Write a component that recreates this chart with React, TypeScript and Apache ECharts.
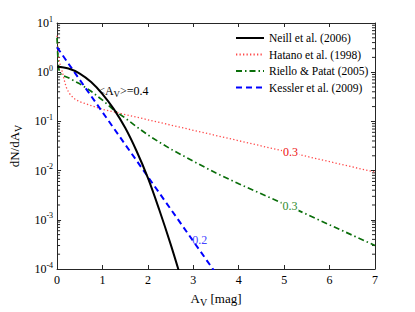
import React, { useEffect, useRef } from "react";
import * as echarts from "echarts";

const FONT = "Liberation Serif";

const legendNames = ["Neill et al. (2006)", "Hatano et al. (1998)", "Riello & Patat (2005)", "Kessler et al. (2009)"];

const neillX = [0, 0.25, 0.5, 0.75, 1, 1.25, 1.5, 1.75, 2, 2.25, 2.5, 2.75];
const neillY = [1.29, 1.19, 0.94, 0.63, 0.36, 0.178, 0.074, 0.025, 0.0071, 0.0016, 0.00032, 0.000056];

const hatanoX = [0, 0.02, 0.04, 0.07, 0.1, 0.13, 0.16, 0.2, 0.25, 0.3, 0.4, 0.5, 0.75, 1, 2, 3, 4, 5, 6, 7];
const hatanoY = [5.5, 3.0, 1.9, 1.4, 1.15, 0.9, 0.68, 0.5, 0.4, 0.34, 0.28, 0.25, 0.21, 0.176, 0.108, 0.066, 0.0405, 0.0248, 0.0152, 0.0093];

const rielloX = [0, 0.01, 0.02, 0.04, 0.07, 0.1, 0.25, 0.5, 0.75, 1, 1.25, 1.5, 1.75, 2, 2.25, 2.5, 3, 3.5, 4, 5, 6, 7];
const rielloY = [5, 3.0, 1.8, 1.15, 0.95, 0.88, 0.77, 0.58, 0.41, 0.27, 0.17, 0.117, 0.078, 0.053, 0.038, 0.0275, 0.0155, 0.0089, 0.0054, 0.0021, 0.00079, 0.0003];

const kesslerX = [0, 0.5, 1, 1.5, 2, 2.5, 3, 3.5];
const kesslerY = [3.2, 0.7, 0.154, 0.034, 0.0075, 0.00166, 0.000366, 0.000081];

const xTicks = [0, 1, 2, 3, 4, 5, 6, 7];
const yDecades = [-4, -3, -2, -1, 0, 1];

// annotation positions in data coordinates
const annMean = [1.46, 0.42];
const annHatano = [5.14, 0.0234];
const annRiello = [5.13, 0.00195];
const annKessler = [3.14, 0.00038];

const pairs = (xs: number[], ys: number[]) => xs.map((x, i) => [x, ys[i]]);

const minorTicks: number[] = [];
for (let d = -4; d < 1; d++) {
  for (let m = 2; m <= 9; m++) minorTicks.push(m * Math.pow(10, d));
}

const AX = "#262626";

export default function App() {
  const ref = useRef<HTMLDivElement>(null);
  useEffect(() => {
    if (!ref.current) return;
    const chart = echarts.init(ref.current, undefined, { renderer: "svg" });
    const axisCommon = {
      axisLine: { show: true, onZero: false, lineStyle: { color: AX, width: 1 } },
      axisTick: { show: true, inside: true, length: 4, lineStyle: { color: AX } },
      splitLine: { show: false },
    };
    const mk = (coord: number[], text: string, color: string, bg?: string) => ({
      coord,
      symbol: "rect",
      symbolSize: 1,
      itemStyle: { color: "rgba(0,0,0,0)" },
      label: {
        show: true,
        position: "inside",
        formatter: text,
        color,
        fontFamily: FONT,
        fontSize: 12,
        backgroundColor: bg,
        padding: bg ? [0, 1] : 0,
        rich: { sub: { fontSize: 9, fontFamily: FONT, color, padding: [7, 0, 0, 0] } },
      },
    });
    chart.setOption({
      animation: false,
      textStyle: { fontFamily: FONT },
      grid: { left: 54, right: 40, top: 23, bottom: 35 },
      legend: {
        data: legendNames,
        orient: "vertical",
        left: 235,
        top: 31,
        padding: 0,
        itemWidth: 28,
        itemHeight: 10,
        itemGap: 2.5,
        itemStyle: { opacity: 0 },
        textStyle: { fontFamily: FONT, fontSize: 11.5, lineHeight: 14, color: "#000" },
      },
      xAxis: [
        {
          type: "value",
          min: 0,
          max: 7,
          interval: 1,
          ...axisCommon,
          axisLabel: { fontFamily: FONT, fontSize: 12, color: "#000", margin: 5, formatter: (v: number) => (xTicks.includes(v) ? String(v) : "") },
          name: "A{sub|V} [mag]",
          nameLocation: "middle",
          nameGap: 20,
          nameTextStyle: {
            fontFamily: FONT,
            fontSize: 13,
            color: "#000",
            rich: { sub: { fontFamily: FONT, fontSize: 10, color: "#000", padding: [8, 0, 0, 0] } },
          },
        },
        { type: "value", position: "top", min: 0, max: 7, interval: 1, ...axisCommon, axisLabel: { show: false } },
      ],
      yAxis: [
        {
          type: "log",
          logBase: 10,
          min: 1e-4,
          max: 10,
          splitNumber: 5,
          ...axisCommon,
          axisLabel: {
            fontFamily: FONT,
            fontSize: 12,
            color: "#000",
            margin: 4,
            formatter: (v: number) => {
              const e = Math.round(Math.log10(v));
              return yDecades.includes(e) ? `10{sup|${e}}` : "";
            },
            rich: { sup: { fontFamily: FONT, fontSize: 8, color: "#000", padding: [0, 0, 8, 0] } },
          },
          name: "dN/dA{sub|V}",
          nameLocation: "middle",
          nameGap: 29,
          nameRotate: 90,
          nameTextStyle: {
            fontFamily: FONT,
            fontSize: 13,
            color: "#000",
            rich: { sub: { fontFamily: FONT, fontSize: 10, color: "#000", padding: [8, 0, 0, 0] } },
          },
        },
        { type: "log", logBase: 10, min: 1e-4, max: 10, splitNumber: 5, position: "right", ...axisCommon, axisLabel: { show: false } },
      ],
      series: [
        {
          name: legendNames[0],
          type: "line",
          data: pairs(neillX, neillY),
          symbol: "none",
          smooth: 0.35,
          lineStyle: { color: "#000", width: 2, type: "solid" },
          itemStyle: { color: "#000" },
          markPoint: { silent: true, data: [mk(annMean, "<A{sub|V}>=0.4", "#000")] },
          z: 5,
        },
        {
          name: legendNames[1],
          type: "line",
          data: pairs(hatanoX, hatanoY),
          symbol: "none",
          lineStyle: { color: "#ff4a4a", width: 1.3, type: [1.3, 2.2] },
          itemStyle: { color: "#ff4a4a" },
          markPoint: { silent: true, data: [mk(annHatano, "0.3", "#ee1111", "#fff")] },
          z: 3,
        },
        {
          name: legendNames[2],
          type: "line",
          data: pairs(rielloX, rielloY),
          symbol: "none",
          lineStyle: { color: "#0a6e0a", width: 1.7, type: [6, 3, 1.5, 3] },
          itemStyle: { color: "#0a6e0a" },
          markPoint: { silent: true, data: [mk(annRiello, "0.3", "#2e8b2e", "#fff")] },
          z: 4,
        },
        {
          name: legendNames[3],
          type: "line",
          data: pairs(kesslerX, kesslerY),
          symbol: "none",
          lineStyle: { color: "#0000ff", width: 2, type: [6, 4] },
          itemStyle: { color: "#0000ff" },
          markPoint: { silent: true, data: [mk(annKessler, "0.2", "#4444ff")] },
          z: 4,
        },
        {
          name: "_minor",
          type: "custom",
          silent: true,
          clip: false,
          data: minorTicks.map((v) => [0, v]),
          encode: { x: 0, y: 1 },
          renderItem: (params: any, api: any) => {
            const v = api.value(1);
            const l = api.coord([0, v]);
            const r = api.coord([7, v]);
            return {
              type: "group",
              children: [
                { type: "line", shape: { x1: l[0], y1: l[1], x2: l[0] + 3, y2: l[1] }, style: { stroke: AX, lineWidth: 1 } },
                { type: "line", shape: { x1: r[0] - 3, y1: r[1], x2: r[0], y2: r[1] }, style: { stroke: AX, lineWidth: 1 } },
              ],
            };
          },
        },
      ],
    });
    return () => chart.dispose();
  }, []);
  return <div ref={ref} style={{ position: "fixed", left: 0, top: 0, width: 415, height: 312, background: "#fff" }} />;
}
